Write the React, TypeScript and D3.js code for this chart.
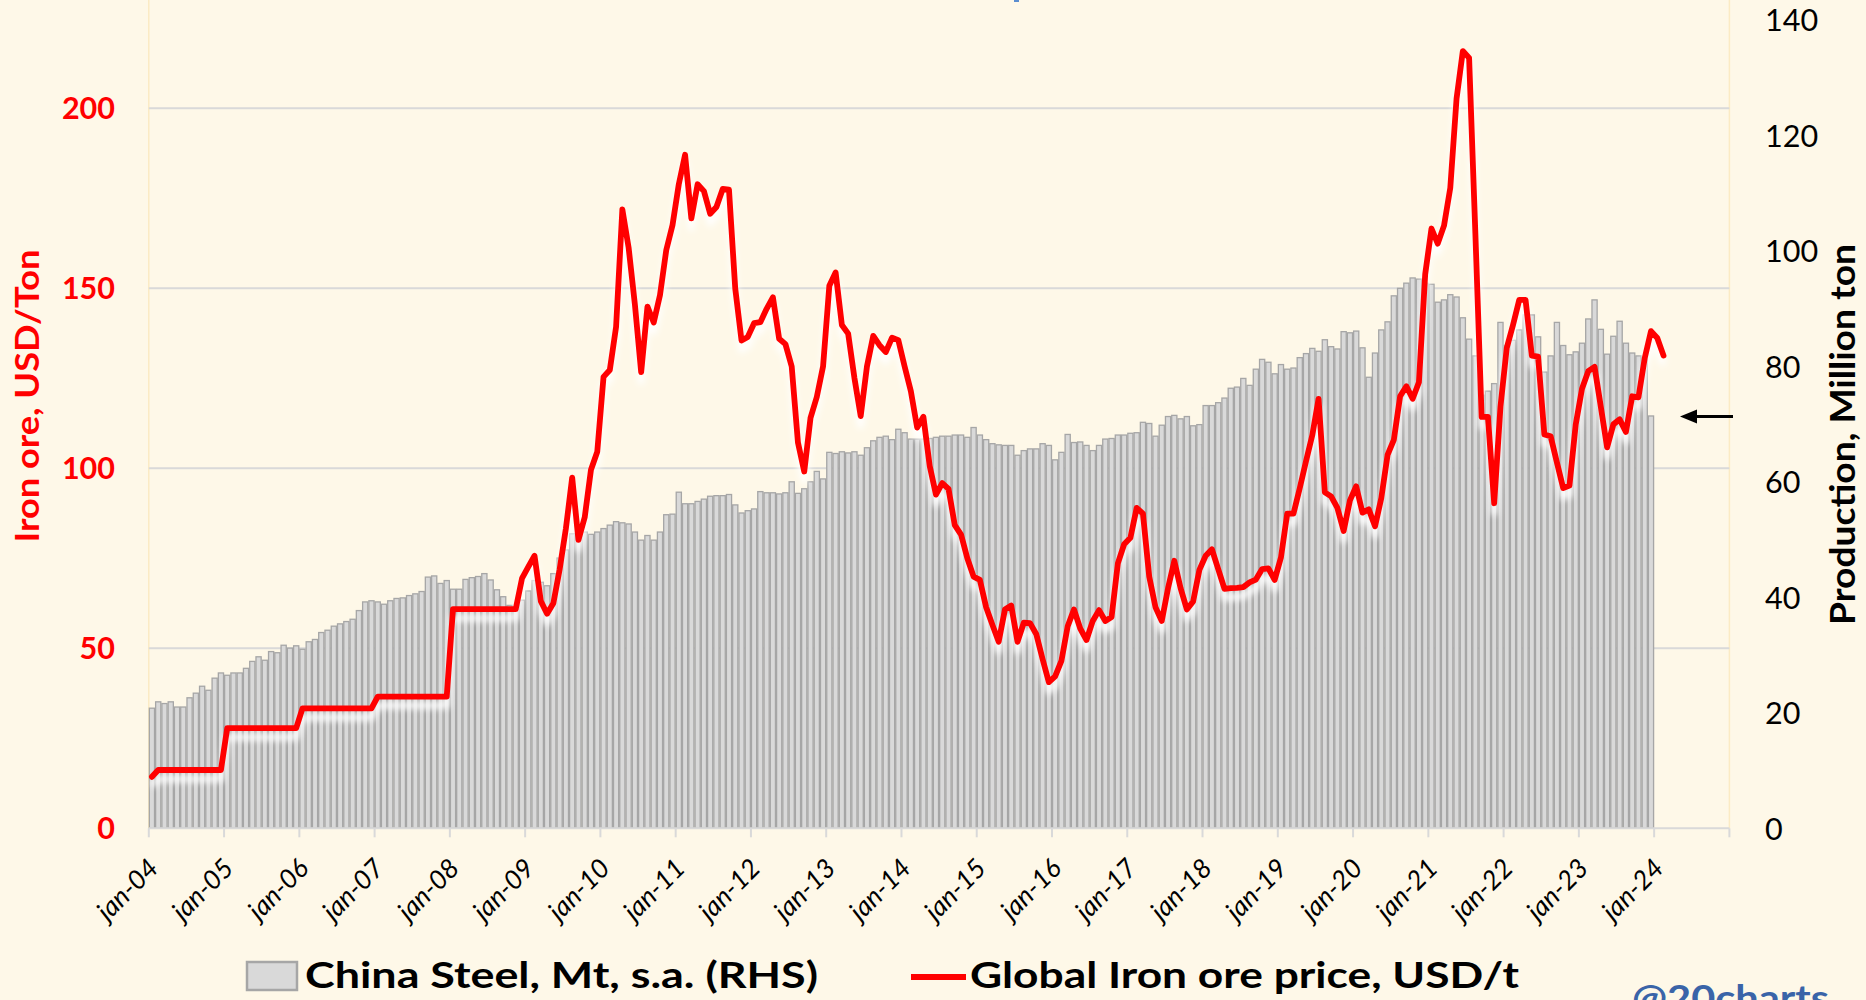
import React from 'react';
import * as d3 from 'd3';

const W = 1866;
const H = 1000;

// China crude steel production, Mt, s.a. (RHS) — monthly from jan-04
const steelProduction: number[] = [
  20.8, 21.9, 21.6, 21.9, 21.0, 21.0, 22.6, 23.4, 24.6, 23.9, 26.0, 26.9,
  26.5, 26.9, 26.9, 27.7, 28.9, 29.7, 29.1, 30.6, 30.4, 31.7, 31.2, 31.6,
  31.0, 32.3, 32.7, 33.9, 34.3, 35.0, 35.4, 35.8, 36.2, 37.7, 39.2, 39.4,
  39.2, 38.8, 39.4, 39.8, 39.9, 40.3, 40.6, 41.0, 43.5, 43.7, 42.4, 42.9,
  41.4, 41.4, 43.1, 43.4, 43.6, 44.1, 43.0, 41.3, 40.1, 38.6, 37.8, 39.5,
  41.1, 42.9, 42.6, 42.0, 44.1, 46.8, 48.2, 51.0, 51.9, 51.3, 50.9, 51.3,
  51.9, 52.5, 53.1, 52.9, 52.7, 51.3, 49.9, 50.7, 49.9, 51.3, 54.3, 54.4,
  58.2, 56.2, 56.2, 56.6, 57.0, 57.5, 57.6, 57.6, 57.8, 56.0, 54.6, 55.0,
  55.3, 58.3, 58.1, 58.1, 57.9, 58.1, 60.0, 58.0, 58.8, 60.0, 61.8, 60.5,
  65.1, 64.9, 65.2, 65.0, 65.2, 64.6, 65.9, 67.1, 67.7, 67.9, 67.3, 69.1,
  68.5, 67.4, 67.4, 67.4, 67.5, 67.7, 67.9, 67.9, 68.1, 68.1, 67.7, 69.4,
  68.1, 67.3, 66.6, 66.4, 66.3, 66.3, 64.6, 65.4, 65.7, 65.7, 66.6, 66.3,
  63.8, 65.1, 68.2, 66.8, 66.9, 66.3, 65.4, 66.3, 67.4, 67.5, 68.1, 68.1,
  68.4, 68.5, 70.3, 70.1, 67.9, 69.8, 71.3, 71.5, 70.9, 71.3, 69.7, 69.9,
  73.2, 73.2, 73.7, 74.5, 76.2, 76.4, 77.9, 76.7, 79.5, 81.2, 80.7, 78.7,
  80.3, 79.5, 79.7, 81.5, 82.2, 83.1, 82.6, 84.6, 83.4, 83.0, 86.0, 85.8,
  86.1, 83.2, 78.1, 82.3, 86.3, 87.7, 92.2, 93.5, 94.4, 95.3, 95.1, 94.4,
  94.2, 91.1, 91.5, 92.4, 92.0, 88.4, 84.7, 81.8, 75.0, 75.7, 77.0, 87.6,
  83.6, 84.5, 86.3, 88.9, 88.9, 85.1, 79.0, 81.8, 87.6, 83.6, 82.0, 82.5,
  84.0, 88.2, 91.5, 86.4, 82.1, 85.2, 87.8, 84.0, 82.3, 81.8, 81.4, 71.4,
];

// Global iron ore price, USD/t — monthly from jan-04
const ironOrePrice: number[] = [
  14.3, 16.2, 16.2, 16.2, 16.2, 16.2, 16.2, 16.2, 16.2, 16.2, 16.2, 16.2,
  27.8, 27.8, 27.8, 27.8, 27.8, 27.8, 27.8, 27.8, 27.8, 27.8, 27.8, 27.8,
  33.3, 33.3, 33.3, 33.3, 33.3, 33.3, 33.3, 33.3, 33.3, 33.3, 33.3, 33.3,
  36.6, 36.6, 36.6, 36.6, 36.6, 36.6, 36.6, 36.6, 36.6, 36.6, 36.6, 36.6,
  60.9, 60.9, 60.9, 60.9, 60.9, 60.9, 60.9, 60.9, 60.9, 60.9, 60.9, 69.4,
  72.6, 75.7, 63.1, 59.6, 62.5, 71.9, 83.3, 97.4, 80.1, 86.4, 99.6, 104.6,
  125.4, 127.3, 139.3, 171.9, 161.3, 145.5, 126.7, 144.9, 140.5, 148.1, 160.6, 167.6,
  178.9, 187.1, 169.4, 178.9, 177.0, 170.7, 172.6, 177.6, 177.4, 149.9, 135.5, 136.5,
  140.3, 140.6, 144.3, 147.5, 136.0, 134.5, 128.3, 107.1, 99.1, 114.0, 119.8, 128.3,
  150.7, 154.4, 139.8, 137.4, 125.1, 114.5, 128.3, 136.8, 134.2, 132.3, 136.3, 135.6,
  128.3, 121.4, 111.3, 114.3, 100.7, 92.7, 95.9, 94.3, 84.2, 81.6, 75.0, 69.9,
  69.0, 61.4, 56.5, 51.8, 60.8, 61.9, 51.8, 57.1, 57.0, 53.9, 47.0, 40.6,
  42.2, 46.5, 56.1, 60.8, 55.5, 52.3, 57.6, 60.6, 57.6, 58.7, 73.6, 78.9,
  80.7, 89.0, 87.4, 69.9, 61.4, 57.6, 66.7, 74.3, 66.7, 60.8, 63.0, 71.8,
  75.7, 77.5, 72.0, 66.5, 66.7, 66.8, 67.0, 68.3, 69.1, 72.0, 72.2, 69.0,
  75.2, 87.4, 87.4, 94.5, 102.0, 109.2, 119.3, 93.3, 92.2, 89.0, 82.6, 91.1,
  95.0, 87.7, 88.6, 83.9, 91.7, 103.7, 107.9, 120.0, 122.8, 119.3, 123.9, 153.9,
  166.6, 162.4, 167.4, 177.9, 202.7, 215.9, 214.0, 165.2, 114.3, 114.3, 90.3, 117.1,
  133.4, 139.8, 146.8, 146.8, 131.3, 131.0, 109.4, 108.9, 101.6, 94.5, 95.2, 112.2,
  122.1, 127.0, 128.2, 117.1, 105.8, 112.2, 113.6, 110.1, 120.0, 119.7, 130.6, 138.1,
  136.2, 131.3,
];

const leftTicks = [0, 50, 100, 150, 200];
const rightTicks = [0, 20, 40, 60, 80, 100, 120, 140];
const yearLabels = [
  'jan-04', 'jan-05', 'jan-06', 'jan-07', 'jan-08', 'jan-09', 'jan-10', 'jan-11',
  'jan-12', 'jan-13', 'jan-14', 'jan-15', 'jan-16', 'jan-17', 'jan-18', 'jan-19',
  'jan-20', 'jan-21', 'jan-22', 'jan-23', 'jan-24',
];

const leftTitle = 'Iron ore, USD/Ton';
const rightTitle = 'Production, Million ton';
const legendBars = 'China Steel, Mt, s.a. (RHS)';
const legendLine = 'Global Iron ore price, USD/t';
const watermark = '@20charts';

const FONT = 'Lato, "Open Sans", "DejaVu Sans", sans-serif';

export default function App() {
  const fmt = d3.timeFormat('%b-%y');
  const months = d3
    .timeMonth.range(new Date(2004, 0, 1), new Date(2025, 0, 1))
    .map((d) => fmt(d).toLowerCase());

  const x = d3.scaleBand<string>().domain(months).range([148.8, 1729.4]).padding(0);
  const bw = x.bandwidth();
  const yL = d3.scaleLinear().domain([0, 200]).range([828.3, 108.3]);
  const yR = d3.scaleLinear().domain([0, 140]).range([828.3, 19.8]);

  const line = d3
    .line<number>()
    .x((_, i) => (x(months[i]) as number) + bw / 2)
    .y((d) => yL(d))
    .curve(d3.curveLinear);
  const linePath = line(ironOrePrice) || '';

  const plotL = 148.8;
  const plotR = 1729.4;
  const base = yL(0);

  const janIdx = months.map((m, i) => (m.startsWith('jan') ? i : -1)).filter((i) => i >= 0);

  return (
    <svg
      width={W}
      height={H}
      style={{ position: 'absolute', left: 0, top: 0, display: 'block' }}
      fontFamily={FONT}
    >
      <defs>
        <filter id="glow" x="-5%" y="-10%" width="110%" height="130%">
          <feGaussianBlur stdDeviation="3" />
        </filter>
        <clipPath id="plotClip">
          <rect x={plotL} y={0} width={plotR - plotL} height={base + 4} />
        </clipPath>
      </defs>
      <rect x={0} y={0} width={W} height={H} fill="#FEF8E8" />

      {/* title fragment at top */}
      <rect x={1014} y={0} width={5} height={2} fill="#5B8ED0" />

      {/* plot edges */}
      <line x1={plotL} x2={plotL} y1={0} y2={base} stroke="#FBEBC4" strokeWidth={1.5} />
      <line x1={plotR} x2={plotR} y1={0} y2={base} stroke="#FBEBC4" strokeWidth={1.5} />

      {/* gridlines */}
      {leftTicks
        .filter((t) => t > 0)
        .map((t) => (
          <line key={t} x1={plotL} x2={plotR} y1={yL(t)} y2={yL(t)} stroke="#D9D9D9" strokeWidth={2} />
        ))}

      {/* bars */}
      <g>
        {steelProduction.map((v, i) => (
          <rect
            key={i}
            x={(x(months[i]) as number) + 0.55}
            y={yR(v)}
            width={bw - 1.1}
            height={base - yR(v)}
            fill="#D9D9D9"
            stroke="#A6A6A6"
            strokeWidth={1.3}
          />
        ))}
      </g>

      {/* x axis */}
      <line x1={plotL} x2={plotR} y1={base} y2={base} stroke="#D9D9D9" strokeWidth={2} />
      {[...janIdx, months.length].map((i) => {
        const xx = i < months.length ? (x(months[i]) as number) : plotR;
        return <line key={'t' + i} x1={xx} x2={xx} y1={base} y2={base + 9} stroke="#D9D9D9" strokeWidth={2} />;
      })}

      {/* line glow + line */}
      <g clipPath="url(#plotClip)">
        <path
          d={linePath}
          fill="none"
          stroke="#FFFFFF"
          strokeOpacity={0.9}
          strokeWidth={7}
          strokeLinejoin="round"
          transform="translate(0,9)"
          filter="url(#glow)"
        />
      </g>
      <path
        d={linePath}
        fill="none"
        stroke="#FF0000"
        strokeWidth={5.8}
        strokeLinejoin="round"
        strokeLinecap="round"
      />

      {/* left ticks */}
      {leftTicks.map((t) => (
        <text
          key={'l' + t}
          x={115}
          y={yL(t) + 11}
          textAnchor="end"
          fontSize={30.5}
          fontWeight="bold"
          fill="#FF0000"
        >
          {t}
        </text>
      ))}
      {/* right ticks */}
      {rightTicks.map((t) => (
        <text key={'r' + t} x={1765} y={yR(t) + 11.5} textAnchor="start" fontSize={30.5} fill="#000">
          {t}
        </text>
      ))}

      {/* x labels */}
      {janIdx.slice(0, yearLabels.length).map((i, k) => {
        const xx = x(months[i]) as number;
        return (
          <text
            key={'x' + i}
            transform={`translate(${xx + 11},${870}) rotate(-45)`}
            textAnchor="end"
            fontSize={26.5}
            fontStyle="italic"
            fill="#000"
          >
            {yearLabels[k]}
          </text>
        );
      })}

      {/* axis titles */}
      <text
        transform="translate(39,396) rotate(-90)"
        textAnchor="middle"
        fontSize={32}
        fontWeight="bold"
        fill="#FF0000"
        textLength={293}
        lengthAdjust="spacingAndGlyphs"
      >
        {leftTitle}
      </text>
      <text
        transform="translate(1855,434.5) rotate(-90)"
        textAnchor="middle"
        fontSize={34}
        fontWeight="bold"
        fill="#000"
        textLength={381}
        lengthAdjust="spacingAndGlyphs"
      >
        {rightTitle}
      </text>

      {/* arrow */}
      <line x1={1694} x2={1733} y1={416.5} y2={416.5} stroke="#000" strokeWidth={3} />
      <path d="M1680,416.5 L1697,409.5 L1697,423.5 Z" fill="#000" />

      {/* legend */}
      <rect x={247} y={962} width={50} height={28} fill="#D9D9D9" stroke="#A6A6A6" strokeWidth={2.5} />
      <text
        x={305}
        y={988}
        fontSize={36}
        fontWeight="bold"
        fill="#000"
        textLength={513}
        lengthAdjust="spacingAndGlyphs"
      >
        {legendBars}
      </text>
      <line x1={911} x2={966} y1={977} y2={977} stroke="#FF0000" strokeWidth={6} />
      <text
        x={970}
        y={988}
        fontSize={36}
        fontWeight="bold"
        fill="#000"
        textLength={549}
        lengthAdjust="spacingAndGlyphs"
      >
        {legendLine}
      </text>

      {/* watermark */}
      <text
        x={1632}
        y={1011}
        fontSize={37}
        fontWeight="bold"
        fill="#3A64A8"
        textLength={197}
        lengthAdjust="spacingAndGlyphs"
      >
        {watermark}
      </text>
    </svg>
  );
}
